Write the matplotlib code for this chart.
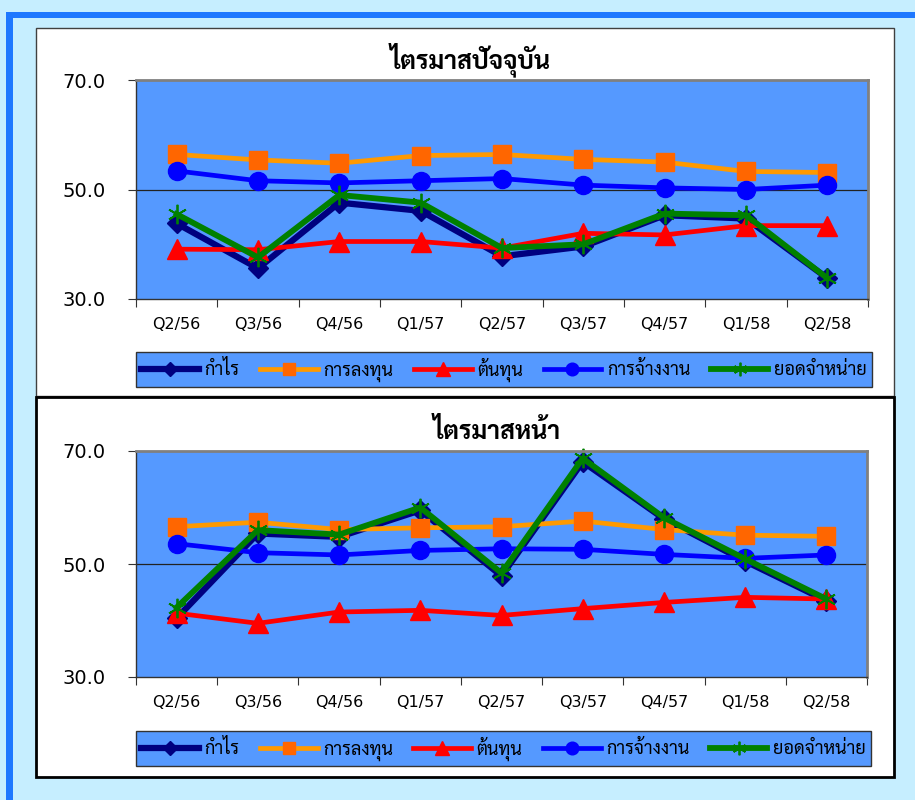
import matplotlib
matplotlib.use("Agg")
import matplotlib.pyplot as plt
from matplotlib import font_manager
from matplotlib.patches import Rectangle
import numpy as np

# ---------------- datos ----------------
quarters = ["Q2/56", "Q3/56", "Q4/56", "Q1/57", "Q2/57", "Q3/57", "Q4/57", "Q1/58", "Q2/58"]
series_names = ["กำไร", "การลงทุน", "ต้นทุน", "การจ้างงาน", "ยอดจำหน่าย"]

# ไตรมาสปัจจุบัน
cur_profit = [43.8, 35.6, 47.6, 46.1, 37.8, 39.6, 45.3, 44.7, 33.8]
cur_invest = [56.4, 55.4, 54.8, 56.2, 56.4, 55.5, 55.0, 53.3, 53.1]
cur_cost = [39.1, 39.0, 40.5, 40.5, 39.3, 42.0, 41.7, 43.4, 43.4]
cur_employ = [53.4, 51.6, 51.2, 51.6, 52.0, 50.8, 50.3, 50.0, 50.8]
cur_sales = [45.5, 37.6, 49.0, 47.6, 39.3, 40.0, 45.6, 45.3, 33.8]

# ไตรมาสหน้า
nxt_profit = [40.4, 55.4, 54.8, 59.5, 47.9, 68.1, 58.0, 50.5, 43.5]
nxt_invest = [56.6, 57.4, 56.1, 56.4, 56.6, 57.6, 56.1, 55.1, 54.9]
nxt_cost = [41.3, 39.5, 41.5, 41.8, 40.9, 42.1, 43.2, 44.1, 43.8]
nxt_employ = [53.6, 52.0, 51.6, 52.4, 52.7, 52.6, 51.7, 51.0, 51.6]
nxt_sales = [42.3, 56.0, 55.2, 60.0, 48.4, 68.7, 58.2, 50.9, 43.8]

# ---------------- fuente tailandesa ----------------
disponibles = set(f.name for f in font_manager.fontManager.ttflist)
thai_font = "DejaVu Sans"
for cand in ["Sarabun", "Noto Sans Thai Looped", "Noto Sans Thai", "Anuphan", "Bai Jamjuree"]:
    if cand in disponibles:
        thai_font = cand
        break
thai = [thai_font, "DejaVu Sans"]
plt.rcParams["font.family"] = ["DejaVu Sans"]

W, H = 915, 800
def fr(x0, y0, x1, y1):
    return [x0 / W, 1 - y1 / H, (x1 - x0) / W, (y1 - y0) / H]

fig = plt.figure(figsize=(W / 100, H / 100), dpi=100, facecolor="#C6EEFF")

# marco azul exterior
fig.add_artist(Rectangle((6 / W, 1 - 18 / H), 1, 6 / H, transform=fig.transFigure,
                         color="#1E78FF", lw=0, zorder=-10))
fig.add_artist(Rectangle((6 / W, 0), 7 / W, 1 - 12 / H, transform=fig.transFigure,
                         color="#1E78FF", lw=0, zorder=-10))

# paneles blancos
fig.add_artist(Rectangle((36 / W, 1 - 396 / H), 858 / W, 368 / H, transform=fig.transFigure,
                         facecolor="white", edgecolor="#404040", lw=1, zorder=-9))
fig.add_artist(Rectangle((36 / W, 1 - 777 / H), 858 / W, 380 / H, transform=fig.transFigure,
                         facecolor="white", edgecolor="black", lw=2, zorder=-9))

estilos = [
    dict(color="#000080", lw=4.5, marker="D", ms=10, mfc="#000080", mec="#000080"),
    dict(color="#FF9900", lw=3.4, marker="s", ms=13, mfc="#FF6600", mec="#FF6600"),
    dict(color="#FF0000", lw=3.4, marker="^", ms=14, mfc="#FF0000", mec="#FF0000"),
    dict(color="#0000FF", lw=3.4, marker="o", ms=13, mfc="#0000FF", mec="#0000FF"),
    dict(color="#008000", lw=4.2, marker=(6, 2, 0), ms=14, mfc="#008000", mec="#008000", mew=1.3),
]

def grafico(rect, titulo, tit_xy, datos, leg_rect):
    ax = fig.add_axes(fr(*rect))
    ax.set_facecolor("#5599FF")
    x = np.arange(len(quarters))
    lineas = []
    for serie, est in zip(datos, estilos):
        l, = ax.plot(x, serie, clip_on=False, **est)
        lineas.append(l)
    ax.set_xlim(-0.5, len(quarters) - 0.5)
    ax.set_ylim(30, 70)
    ax.set_yticks([30, 50, 70])
    ax.set_yticklabels(["30.0", "50.0", "70.0"], fontsize=14)
    ax.axhline(50, color="#222222", lw=0.9, zorder=1)
    ax.set_xticks(np.arange(-0.5, len(quarters), 1))
    ax.set_xticklabels([])
    ax.set_xticks(x, minor=True)
    ax.set_xticklabels(quarters, minor=True, fontsize=11.5)
    ax.tick_params(axis="x", which="minor", length=0, pad=13)
    ax.tick_params(axis="x", which="major", length=6, direction="out", color="#333333")
    ax.tick_params(axis="y", length=6, pad=16, direction="out", color="#333333")
    for s in ["top", "right"]:
        ax.spines[s].set_color("#808080")
        ax.spines[s].set_linewidth(2)
    for s in ["left", "bottom"]:
        ax.spines[s].set_color("#333333")
        ax.spines[s].set_linewidth(1)
    fig.text(tit_xy[0] / W, 1 - tit_xy[1] / H, titulo, ha="center", va="center",
             fontsize=18, fontweight="bold", family=thai)
    x0, y0, x1, y1 = leg_rect
    leg = ax.legend(lineas, series_names, loc="center", ncol=5, mode="expand",
                    bbox_to_anchor=(x0 / W, 1 - y1 / H, (x1 - x0) / W, (y1 - y0) / H),
                    bbox_transform=fig.transFigure, frameon=True, fancybox=False,
                    facecolor="#5599FF", edgecolor="#333333", framealpha=1,
                    prop=dict(family=thai, size=13), handlelength=3.2, markerscale=0.7,
                    borderaxespad=0, borderpad=0.3, handletextpad=0.3, columnspacing=0.8)
    leg.get_frame().set_linewidth(1)
    return ax

grafico((136, 80, 868, 299), "ไตรมาสปัจจุบัน", (470, 60),
        [cur_profit, cur_invest, cur_cost, cur_employ, cur_sales], (136, 352, 872, 387))
grafico((136, 451, 867, 677), "ไตรมาสหน้า", (497, 432),
        [nxt_profit, nxt_invest, nxt_cost, nxt_employ, nxt_sales], (136, 731, 871, 766))

fig.savefig("out.png", dpi=100, facecolor=fig.get_facecolor())
